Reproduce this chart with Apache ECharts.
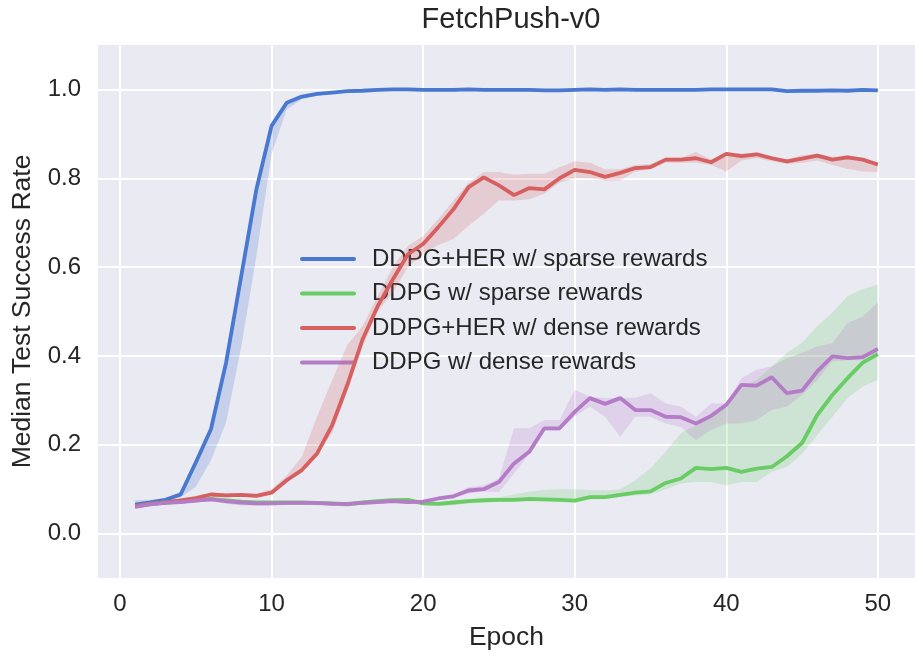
<!DOCTYPE html>
<html>
<head>
<meta charset="utf-8">
<title>FetchPush-v0</title>
<script src="https://cdn.jsdelivr.net/npm/echarts@6/dist/echarts.min.js"></script>
<style>
    html, body { margin: 0; padding: 0; background: #fff; }
    #chart { width: 915px; height: 656px; }
</style>
</head>
<body>
<div id="chart"></div>
<script>
    // epochs 1..50
    let epochs = [];
    for (let i = 1; i <= 50; i++) epochs.push(i);

    let xTicks = [0, 10, 20, 30, 40, 50];
    let yTicks = [0, 0.2, 0.4, 0.6, 0.8, 1.0];

    let seriesNames = ['DDPG+HER w/ sparse rewards', 'DDPG w/ sparse rewards', 'DDPG+HER w/ dense rewards', 'DDPG w/ dense rewards'];
    let colors = ['#4878CF', '#6ACC65', '#D65F5F', '#B47CC7'];

    // DDPG+HER w/ sparse rewards
    let herSparse = [0.065,0.070,0.076,0.088,0.160,0.235,0.385,0.580,0.775,0.918,
        0.970,0.984,0.990,0.993,0.996,0.997,0.999,1.000,1.000,0.999,
        0.999,0.999,1.000,0.999,0.999,0.999,0.999,0.998,0.998,0.999,
        1.000,0.999,1.000,0.999,0.999,0.999,0.999,0.999,1.000,1.000,
        1.000,1.000,1.000,0.996,0.997,0.997,0.998,0.997,0.999,0.998];
    let herSparseLow = [0.060,0.065,0.071,0.082,0.105,0.165,0.250,0.420,0.625,0.855,
        0.955,0.978,0.986,0.990,0.993,0.994,0.996,0.997,0.997,0.996,
        0.996,0.996,0.997,0.996,0.996,0.996,0.996,0.995,0.995,0.996,
        0.997,0.996,0.997,0.996,0.996,0.996,0.996,0.996,0.997,0.997,
        0.997,0.997,0.997,0.993,0.994,0.994,0.995,0.994,0.996,0.995];
    let herSparseHigh = [0.075,0.076,0.080,0.095,0.165,0.240,0.390,0.585,0.780,0.922,
        0.973,0.986,0.992,0.995,0.998,0.999,1.000,1.000,1.000,1.000,
        1.000,1.000,1.000,1.000,1.000,1.000,1.000,1.000,1.000,1.000,
        1.000,1.000,1.000,1.000,1.000,1.000,1.000,1.000,1.000,1.000,
        1.000,1.000,1.000,0.999,0.999,0.999,1.000,0.999,1.000,1.000];

    // DDPG w/ sparse rewards
    let ddpgSparse = [0.062,0.067,0.070,0.072,0.075,0.078,0.075,0.072,0.070,0.070,
        0.070,0.070,0.069,0.068,0.066,0.070,0.073,0.075,0.076,0.068,
        0.067,0.070,0.073,0.075,0.076,0.076,0.078,0.077,0.076,0.074,
        0.082,0.082,0.087,0.092,0.095,0.114,0.124,0.148,0.145,0.148,
        0.139,0.146,0.150,0.174,0.204,0.267,0.312,0.350,0.385,0.404];
    let ddpgSparseLow = [0.058,0.063,0.066,0.068,0.071,0.074,0.068,0.064,0.063,0.064,
        0.065,0.065,0.064,0.063,0.061,0.065,0.068,0.070,0.071,0.063,
        0.062,0.064,0.068,0.070,0.071,0.071,0.073,0.072,0.071,0.070,
        0.077,0.078,0.083,0.086,0.088,0.100,0.113,0.116,0.116,0.109,
        0.116,0.116,0.139,0.150,0.180,0.222,0.263,0.305,0.331,0.346];
    let ddpgSparseHigh = [0.066,0.071,0.074,0.076,0.079,0.082,0.079,0.076,0.074,0.074,
        0.074,0.074,0.073,0.072,0.070,0.074,0.077,0.079,0.080,0.072,
        0.071,0.075,0.078,0.080,0.082,0.088,0.095,0.098,0.100,0.100,
        0.098,0.097,0.100,0.120,0.147,0.184,0.226,0.244,0.267,0.294,
        0.328,0.346,0.376,0.407,0.430,0.467,0.498,0.535,0.550,0.561];

    // DDPG+HER w/ dense rewards
    let herDense = [0.062,0.067,0.070,0.075,0.080,0.088,0.086,0.087,0.085,0.092,
        0.120,0.143,0.180,0.244,0.335,0.437,0.512,0.572,0.629,0.652,
        0.690,0.730,0.780,0.802,0.784,0.762,0.778,0.775,0.800,0.819,
        0.814,0.803,0.812,0.823,0.825,0.842,0.842,0.845,0.836,0.855,
        0.850,0.854,0.845,0.838,0.844,0.851,0.842,0.847,0.842,0.831];
    let herDenseLow = [0.058,0.063,0.066,0.071,0.076,0.084,0.082,0.083,0.081,0.088,
        0.115,0.140,0.178,0.226,0.320,0.420,0.500,0.543,0.600,0.630,
        0.650,0.663,0.693,0.720,0.750,0.750,0.753,0.765,0.790,0.800,
        0.800,0.795,0.795,0.815,0.820,0.835,0.835,0.835,0.830,0.815,
        0.840,0.845,0.838,0.832,0.835,0.840,0.830,0.821,0.815,0.814];
    let herDenseHigh = [0.066,0.071,0.074,0.079,0.084,0.092,0.090,0.091,0.090,0.100,
        0.131,0.173,0.263,0.346,0.425,0.467,0.535,0.600,0.648,0.670,
        0.708,0.750,0.790,0.814,0.814,0.808,0.810,0.810,0.825,0.838,
        0.835,0.820,0.820,0.830,0.832,0.846,0.846,0.859,0.842,0.858,
        0.856,0.858,0.850,0.843,0.852,0.855,0.848,0.852,0.845,0.834];

    // DDPG w/ dense rewards
    let ddpgDense = [0.060,0.066,0.069,0.071,0.074,0.077,0.073,0.070,0.068,0.068,
        0.069,0.069,0.069,0.067,0.067,0.069,0.071,0.073,0.071,0.072,
        0.079,0.084,0.097,0.100,0.116,0.158,0.184,0.237,0.237,0.274,
        0.305,0.292,0.305,0.278,0.278,0.263,0.262,0.248,0.265,0.290,
        0.335,0.333,0.352,0.316,0.322,0.365,0.399,0.395,0.397,0.416];
    let ddpgDenseLow = [0.056,0.062,0.065,0.067,0.070,0.073,0.067,0.064,0.063,0.064,
        0.065,0.065,0.065,0.063,0.063,0.065,0.067,0.069,0.067,0.068,
        0.075,0.080,0.090,0.095,0.093,0.135,0.180,0.232,0.232,0.263,
        0.286,0.263,0.218,0.263,0.263,0.248,0.240,0.210,0.233,0.248,
        0.248,0.256,0.278,0.286,0.312,0.346,0.388,0.390,0.394,0.407];
    let ddpgDenseHigh = [0.064,0.070,0.073,0.075,0.078,0.081,0.077,0.074,0.072,0.072,
        0.073,0.073,0.073,0.071,0.071,0.073,0.075,0.077,0.075,0.076,
        0.083,0.088,0.105,0.108,0.124,0.237,0.237,0.256,0.256,0.324,
        0.308,0.305,0.306,0.306,0.316,0.293,0.286,0.263,0.293,0.293,
        0.350,0.369,0.376,0.395,0.407,0.421,0.429,0.474,0.489,0.520];

    let means = [herSparse, ddpgSparse, herDense, ddpgDense];
    let lows = [herSparseLow, ddpgSparseLow, herDenseLow, ddpgDenseLow];
    let highs = [herSparseHigh, ddpgSparseHigh, herDenseHigh, ddpgDenseHigh];

    let textColor = '#262626';
    let fontFamily = '"Liberation Sans", Arial, sans-serif';

    //把数组变成[x, y]点
    function pairs(arr) {
        return arr.map((v, i) => [epochs[i], v]);
    }

    let series = [];
    means.forEach((mean, k) => {
        // 置信区间: 用坐标系换算成多边形
        series.push({
            type: 'custom',
            silent: true,
            clip: true,
            z: 1 + k * 2,
            data: [[epochs[0], lows[k][0]]],
            renderItem: function (params, api) {
                let pts = [];
                for (let i = 0; i < epochs.length; i++) {
                    pts.push(api.coord([epochs[i], highs[k][i]]));
                }
                for (let i = epochs.length - 1; i >= 0; i--) {
                    pts.push(api.coord([epochs[i], lows[k][i]]));
                }
                return {
                    type: 'polygon',
                    shape: {points: pts},
                    style: {fill: colors[k], opacity: 0.22}
                };
            }
        });
        // mean line
        series.push({
            name: seriesNames[k],
            type: 'line',
            data: pairs(mean),
            symbol: 'none',
            color: colors[k],
            lineStyle: {width: 3.8, color: colors[k]},
            z: 2 + k * 2
        });
    });

    let chart = echarts.init(document.getElementById('chart'));
    chart.setOption({
        animation: false,
        backgroundColor: '#ffffff',
        title: {
            text: 'FetchPush-v0',
            left: 506,
            textAlign: 'center',
            top: 0,
            textStyle: {fontFamily: fontFamily, fontSize: 29, fontWeight: 'normal', color: textColor}
        },
        legend: {
            data: seriesNames,
            orient: 'vertical',
            left: 295,
            top: 242,
            itemWidth: 52,
            itemHeight: 24,
            itemGap: 10.5,
            itemStyle: {opacity: 0},
            lineStyle: {width: 4, cap: 'round'},
            textStyle: {fontFamily: fontFamily, fontSize: 24, color: textColor, padding: [0, 0, 0, 13]}
        },
        grid: {
            left: 98,
            right: 0,
            top: 45,
            bottom: 78,
            show: true,
            backgroundColor: '#EAEAF2',
            borderWidth: 0
        },
        xAxis: {
            type: 'value',
            min: -1.45,
            max: 52.45,
            name: 'Epoch',
            nameLocation: 'middle',
            nameGap: 46,
            nameTextStyle: {fontFamily: fontFamily, fontSize: 26.5, color: textColor},
            axisLine: {show: false},
            axisTick: {show: false, customValues: xTicks},
            axisLabel: {
                customValues: xTicks,
                margin: 14,
                fontFamily: fontFamily,
                fontSize: 24,
                color: textColor
            },
            splitLine: {show: true, lineStyle: {color: '#ffffff', width: 2}}
        },
        yAxis: {
            type: 'value',
            min: -0.1,
            max: 1.1,
            name: 'Median Test Success Rate',
            nameLocation: 'middle',
            nameGap: 62,
            nameTextStyle: {fontFamily: fontFamily, fontSize: 26.5, color: textColor},
            axisLine: {show: false},
            axisTick: {show: false, customValues: yTicks},
            axisLabel: {
                customValues: yTicks,
                margin: 17,
                formatter: v => v.toFixed(1),
                fontFamily: fontFamily,
                fontSize: 24,
                color: textColor
            },
            splitLine: {show: true, lineStyle: {color: '#ffffff', width: 2}}
        },
        series: series
    });
</script>
</body>
</html>
